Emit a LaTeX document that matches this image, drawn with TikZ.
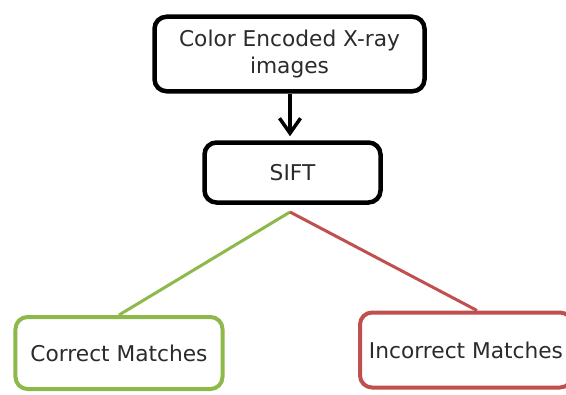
\documentclass[tikz,border=0pt]{standalone}
\usepackage{fontspec}
\setmainfont{DejaVu Sans}
\usetikzlibrary{arrows.meta}
\definecolor{txt}{HTML}{2B2B2B}
\definecolor{grn}{HTML}{8DB84A}
\definecolor{rd}{HTML}{C0504D}
\tikzset{
  box/.style={draw, rounded corners=12bp, fill=white, text=txt, align=center,
    inner sep=0pt, font=\fontsize{21.8}{28}\selectfont},
  blackbox/.style={box, draw=black, line width=4.5bp},
  gbox/.style={box, draw=grn, line width=4bp},
  rbox/.style={box, draw=rd, line width=4bp},
}
\begin{document}
\begin{tikzpicture}[x=1bp,y=1bp]
\useasboundingbox (0,0) rectangle (566,394);
\node[blackbox, minimum width=270bp, minimum height=74.5bp] (top) at (289.5,340) {Color Encoded X-ray\\images};
\node[blackbox, minimum width=176bp, minimum height=60bp] (sift) at (292.5,221.5) {SIFT};
\node[gbox, minimum width=207bp, minimum height=72bp] (correct) at (119,41) {Correct Matches};
\node[rbox, minimum width=212bp, minimum height=75bp] (incorrect) at (466,44) {Incorrect Matches};
\coordinate (fork) at (290,182);
\draw[line width=3.5bp, shorten >=4bp, -{Straight Barb[length=15bp,width=21bp]}] (top.south -| fork) -- (sift.north -| fork);
\draw[grn, line width=3bp] (fork) -- (correct.north);
\draw[rd, line width=3bp] (fork) -- ([xshift=11bp]incorrect.north);
\end{tikzpicture}
\end{document}
